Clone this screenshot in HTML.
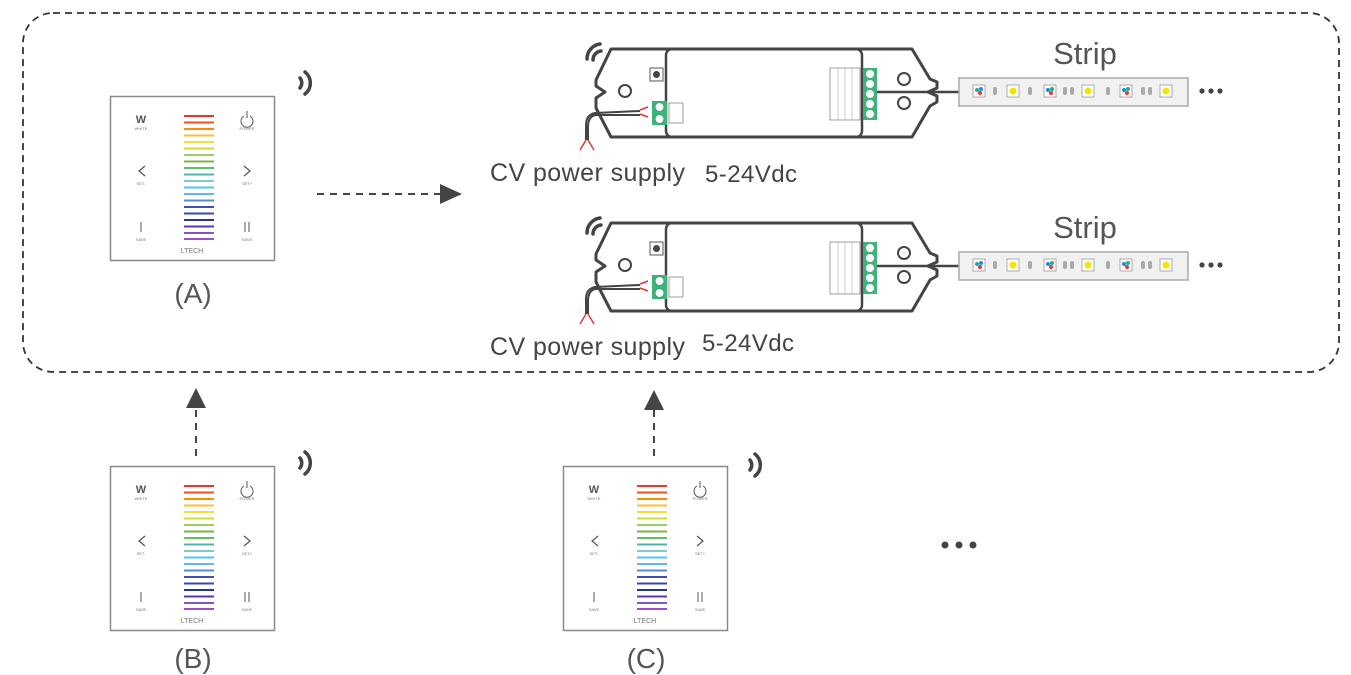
<!DOCTYPE html>
<html><head><meta charset="utf-8"><style>
html,body{margin:0;padding:0;background:#fff;}
svg{display:block;}
text{font-family:"Liberation Sans",sans-serif;}
</style></head><body>
<svg width="1351" height="675" viewBox="0 0 1351 675" xmlns="http://www.w3.org/2000/svg">
<defs>
<g id="bars">
<rect x="74" y="19" width="30" height="2" fill="#e53935"/>
<rect x="74" y="25.5" width="30" height="2" fill="#f4511e"/>
<rect x="74" y="32" width="30" height="2" fill="#fb8c00"/>
<rect x="74" y="38.5" width="30" height="2" fill="#fbc02d"/>
<rect x="74" y="45" width="30" height="2" fill="#f0e03a"/>
<rect x="74" y="51.5" width="30" height="2" fill="#cddc39"/>
<rect x="74" y="58" width="30" height="2" fill="#9ccc65"/>
<rect x="74" y="64.5" width="30" height="2" fill="#7cb342"/>
<rect x="74" y="71" width="30" height="2" fill="#66bb6a"/>
<rect x="74" y="77.5" width="30" height="2" fill="#4db6ac"/>
<rect x="74" y="84" width="30" height="2" fill="#80cbc4"/>
<rect x="74" y="90.5" width="30" height="2" fill="#4fc3f7"/>
<rect x="74" y="97" width="30" height="2" fill="#64b5f6"/>
<rect x="74" y="103.5" width="30" height="2" fill="#5c8ad0"/>
<rect x="74" y="110" width="30" height="2" fill="#3f51b5"/>
<rect x="74" y="116.5" width="30" height="2" fill="#3949ab"/>
<rect x="74" y="123" width="30" height="2" fill="#283593"/>
<rect x="74" y="129.5" width="30" height="2" fill="#5e35b1"/>
<rect x="74" y="136" width="30" height="2" fill="#7e57c2"/>
<rect x="74" y="142" width="30" height="2" fill="#9c4dcc"/>
</g>
<g id="panelshape">
<rect x="0.5" y="0.5" width="164" height="164" fill="#fff" stroke="#8a8a8a" stroke-width="1.5"/>
<use href="#bars"/>
<path d="M134,20 A6,6 0 1 0 140,20 M137,15 V22" fill="none" stroke="#555" stroke-width="1"/>
<path d="M35,70 L29,75 L35,80 M134,70 L140,75 L134,80" fill="none" stroke="#555" stroke-width="1.2"/>
<path d="M31,126 V136 M135,126 V136 M139,126 V136" stroke="#555" stroke-width="1"/>
</g>
<g id="wifi" fill="none" stroke="#444" stroke-width="3.5" stroke-linecap="round">
<path d="M0,0 A8,8 0 0 1 0,10"/><path d="M5,-6 A14,14 0 0 1 5,16"/>
</g>
<g id="cwifi" fill="none" stroke="#444" stroke-width="3.5" stroke-linecap="round">
<path d="M593,60 A9,9 0 0 1 601,51"/><path d="M587,59 A15,15 0 0 1 600,44"/>
</g>
<g id="ctrl">
<path d="M611,49 H912 L930,79 L937,82 L937,88 L928,92 L937,96 L937,102 L930,106 L912,137 H611 L596,108 L596,98 L605,92 L596,86 L596,80 Z" fill="#fff" stroke="#444" stroke-width="3" stroke-linejoin="round"/>
<rect x="666" y="49" width="196" height="88" rx="6" fill="none" stroke="#444" stroke-width="2.5"/>
<circle cx="625" cy="91" r="6" fill="none" stroke="#444" stroke-width="2"/>
<circle cx="904" cy="79" r="6" fill="none" stroke="#444" stroke-width="2"/>
<circle cx="904" cy="103" r="6" fill="none" stroke="#444" stroke-width="2"/>
<rect x="650" y="68" width="13" height="13" fill="#fff" stroke="#555"/><circle cx="656.5" cy="74.5" r="3.5" fill="#444"/>
<rect x="652" y="101" width="15" height="24" fill="#3fb37a"/>
<circle cx="659.5" cy="107" r="4.5" fill="#fff" stroke="#2a7"/><circle cx="659.5" cy="119" r="4.5" fill="#fff" stroke="#2a7"/>
<rect x="669" y="103" width="14" height="20" fill="#fff" stroke="#777" stroke-width="0.7"/>
<rect x="830" y="68" width="30" height="52" fill="#fff" stroke="#777" stroke-width="0.7"/>
<path d="M838,68 V120 M845,68 V120 M852,68 V120" stroke="#999" stroke-width="0.5"/>
<rect x="863" y="68" width="14" height="52" fill="#3fb37a"/>
<circle cx="870" cy="74" r="4" fill="#fff"/><circle cx="870" cy="84" r="4" fill="#fff"/><circle cx="870" cy="94" r="4" fill="#fff"/><circle cx="870" cy="104" r="4" fill="#fff"/><circle cx="870" cy="114" r="4" fill="#fff"/>
<path d="M877,92 H960" stroke="#444" stroke-width="2.5"/>
<path d="M640,111 L595,113 Q586,115 586,125 V140 M640,115 L595,115 Q588,117 588,127 V140" fill="none" stroke="#444" stroke-width="2"/>
<path d="M640,110 L648,107 M640,114 L648,117" stroke="#e53935" stroke-width="1.5"/>
<path d="M586,140 L580,150 M588,140 L594,150" stroke="#e53935" stroke-width="1.5"/>
<rect x="959" y="78" width="229" height="28" fill="#f1f1f1" stroke="#aaa" stroke-width="1.5"/>
<g stroke="#999" stroke-width="0.8">
<rect x="973" y="85" width="12" height="12" fill="#fff"/><rect x="1007" y="85" width="12" height="12" fill="#fff"/><rect x="1044" y="85" width="12" height="12" fill="#fff"/><rect x="1082" y="85" width="12" height="12" fill="#fff"/><rect x="1120" y="85" width="12" height="12" fill="#fff"/><rect x="1160" y="85" width="12" height="12" fill="#fff"/>
</g>
<g><circle cx="1013" cy="91" r="3.5" fill="#f5e400"/><circle cx="1088" cy="91" r="3.5" fill="#f5e400"/><circle cx="1166" cy="91" r="3.5" fill="#f5e400"/>
<circle cx="977" cy="90" r="2" fill="#2a9"/><circle cx="981" cy="89" r="2" fill="#1e88e5"/><circle cx="980" cy="93" r="2" fill="#e53935"/>
<circle cx="1048" cy="90" r="2" fill="#1e88e5"/><circle cx="1052" cy="89" r="2" fill="#2a9"/><circle cx="1051" cy="93" r="2" fill="#e53935"/>
<circle cx="1124" cy="90" r="2" fill="#1e88e5"/><circle cx="1128" cy="89" r="2" fill="#2a9"/><circle cx="1127" cy="93" r="2" fill="#e53935"/></g>
<g fill="#aaa"><rect x="993" y="87" width="4" height="8" rx="2"/><rect x="1028" y="87" width="4" height="8" rx="2"/><rect x="1063" y="87" width="4" height="8" rx="2"/><rect x="1070" y="87" width="4" height="8" rx="2"/><rect x="1106" y="87" width="4" height="8" rx="2"/><rect x="1141" y="87" width="4" height="8" rx="2"/><rect x="1148" y="87" width="4" height="8" rx="2"/></g>
<g fill="#444"><circle cx="1202" cy="91" r="2.6"/><circle cx="1211" cy="91" r="2.6"/><circle cx="1220" cy="91" r="2.6"/></g>
</g>
</defs>

<rect x="23" y="13" width="1316" height="359" rx="30" fill="none" stroke="#333" stroke-width="1.8" stroke-dasharray="7,5"/>

<use href="#ctrl"/>
<use href="#ctrl" y="174"/>
<use href="#cwifi"/>
<use href="#cwifi" y="174"/>
<text x="1085" y="64" font-size="31" fill="#555" text-anchor="middle">Strip</text>
<text x="1085" y="238" font-size="31" fill="#555" text-anchor="middle">Strip</text>
<text x="490" y="181" font-size="25" fill="#444" textLength="195">CV power supply</text>
<text x="705" y="182" font-size="24" fill="#444" textLength="92">5-24Vdc</text>
<text x="490" y="355" font-size="25" fill="#444" textLength="195">CV power supply</text>
<text x="702" y="351" font-size="24" fill="#444" textLength="92">5-24Vdc</text>

<g transform="translate(300,78)"><use href="#wifi"/></g>
<g transform="translate(300,458)"><use href="#wifi"/></g>
<g transform="translate(750,460)"><use href="#wifi"/></g>

<path d="M317,194 H440" stroke="#444" stroke-width="2" stroke-dasharray="7,6"/>
<path d="M440,184 L462,194 L440,204 Z" fill="#444"/>
<path d="M196,456 V408" stroke="#444" stroke-width="2" stroke-dasharray="7,6"/>
<path d="M186,408 L196,388 L206,408 Z" fill="#444"/>
<path d="M654,456 V410" stroke="#444" stroke-width="2" stroke-dasharray="7,6"/>
<path d="M644,410 L654,390 L664,410 Z" fill="#444"/>

<g transform="translate(110,96)"><use href="#panelshape"/>
<text x="31" y="27" font-size="11" font-weight="bold" fill="#555" text-anchor="middle">W</text>
<text x="31" y="34" font-size="4" fill="#777" text-anchor="middle">WHITE</text>
<text x="137" y="34" font-size="4" fill="#777" text-anchor="middle">POWER</text>
<text x="31" y="89" font-size="4" fill="#777" text-anchor="middle">SET-</text>
<text x="137" y="89" font-size="4" fill="#777" text-anchor="middle">SET+</text>
<text x="31" y="145" font-size="4" fill="#777" text-anchor="middle">SAVE</text>
<text x="137" y="145" font-size="4" fill="#777" text-anchor="middle">SAVE</text>
<text x="82" y="157" font-size="7" fill="#777" text-anchor="middle">LTECH</text></g>
<g transform="translate(110,466)"><use href="#panelshape"/>
<text x="31" y="27" font-size="11" font-weight="bold" fill="#555" text-anchor="middle">W</text>
<text x="31" y="34" font-size="4" fill="#777" text-anchor="middle">WHITE</text>
<text x="137" y="34" font-size="4" fill="#777" text-anchor="middle">POWER</text>
<text x="31" y="89" font-size="4" fill="#777" text-anchor="middle">SET-</text>
<text x="137" y="89" font-size="4" fill="#777" text-anchor="middle">SET+</text>
<text x="31" y="145" font-size="4" fill="#777" text-anchor="middle">SAVE</text>
<text x="137" y="145" font-size="4" fill="#777" text-anchor="middle">SAVE</text>
<text x="82" y="157" font-size="7" fill="#777" text-anchor="middle">LTECH</text></g>
<g transform="translate(563,466)"><use href="#panelshape"/>
<text x="31" y="27" font-size="11" font-weight="bold" fill="#555" text-anchor="middle">W</text>
<text x="31" y="34" font-size="4" fill="#777" text-anchor="middle">WHITE</text>
<text x="137" y="34" font-size="4" fill="#777" text-anchor="middle">POWER</text>
<text x="31" y="89" font-size="4" fill="#777" text-anchor="middle">SET-</text>
<text x="137" y="89" font-size="4" fill="#777" text-anchor="middle">SET+</text>
<text x="31" y="145" font-size="4" fill="#777" text-anchor="middle">SAVE</text>
<text x="137" y="145" font-size="4" fill="#777" text-anchor="middle">SAVE</text>
<text x="82" y="157" font-size="7" fill="#777" text-anchor="middle">LTECH</text></g>

<text x="193" y="303" font-size="28" fill="#555" text-anchor="middle">(A)</text>
<text x="193" y="668" font-size="28" fill="#555" text-anchor="middle">(B)</text>
<text x="646" y="668" font-size="28" fill="#555" text-anchor="middle">(C)</text>

<g fill="#444"><circle cx="945" cy="545" r="3.5"/><circle cx="959" cy="545" r="3.5"/><circle cx="973" cy="545" r="3.5"/></g>
</svg>
</body></html>
